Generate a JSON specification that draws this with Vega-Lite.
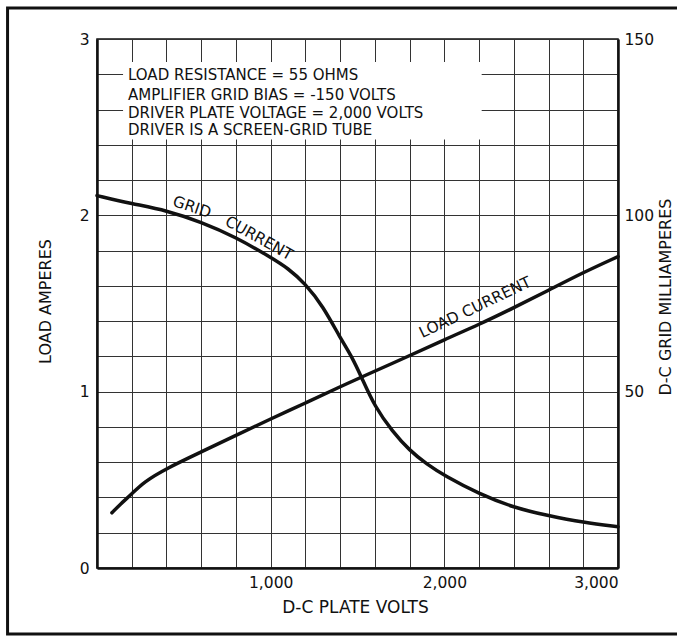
{
  "$schema": "https://vega.github.io/schema/vega-lite/v6.json",
  "width": 521,
  "height": 529,
  "autosize": "none",
  "padding": {"left": 97, "top": 39, "right": 59, "bottom": 71},
  "background": "white",
  "config": {
    "font": "DejaVu Sans",
    "view": {"stroke": "#111", "strokeWidth": 1.5},
    "axis": {
      "labelFont": "DejaVu Sans",
      "labelFontSize": 15.5,
      "labelColor": "#111",
      "titleFont": "DejaVu Sans",
      "titleColor": "#111",
      "titleFontWeight": "normal",
      "titleFontSize": 17,
      "ticks": false,
      "gridColor": "#333",
      "gridOpacity": 1,
      "gridWidth": 1,
      "domainColor": "#111",
      "domainWidth": 2.5,
      "labelOverlap": false
    }
  },
  "encoding": {
    "x": {
      "field": "volts",
      "type": "quantitative",
      "scale": {"domain": [0, 3000], "nice": false, "zero": false},
      "axis": {
        "title": "D-C PLATE VOLTS",
        "values": [0, 200, 400, 600, 800, 1000, 1200, 1400, 1600, 1800, 2000, 2200, 2400, 2600, 2800, 3000],
        "labelExpr": "datum.value % 1000 === 0 && datum.value > 0 ? format(datum.value, ',') : ''",
        "labelPadding": 7,
        "titleX": 258,
        "titleY": 44,
        "titleAlign": "center",
        "titleBaseline": "alphabetic"
      }
    }
  },
  "layer": [
    {
      "encoding": {
        "y": {
          "field": "amps",
          "type": "quantitative",
          "scale": {"domain": [0, 3], "nice": false, "zero": false},
          "axis": {
            "orient": "left",
            "title": "LOAD AMPERES",
            "titleFontSize": 16,
            "values": [0, 0.2, 0.4, 0.6, 0.8, 1, 1.2, 1.4, 1.6, 1.8, 2, 2.2, 2.4, 2.6, 2.8, 3],
            "labelExpr": "abs(datum.value - round(datum.value)) < 0.001 ? format(datum.value, 'd') : ''",
            "labelPadding": 8,
            "titleAngle": -90,
            "titleX": -47,
            "titleY": 262,
            "titleAlign": "center",
            "titleBaseline": "alphabetic"
          }
        }
      },
      "layer": [
        {
          "data": {"values": [{"volts": 150, "volts2": 2215, "amps": 2.43, "amps2": 2.87}]},
          "mark": {"type": "rect", "fill": "white", "stroke": null},
          "encoding": {
            "x2": {"field": "volts2"},
            "y2": {"field": "amps2"}
          }
        },
        {
          "data": {"values": [
            {"volts": 86, "amps": 0.313},
            {"volts": 134, "amps": 0.362},
            {"volts": 200, "amps": 0.419},
            {"volts": 268, "amps": 0.487},
            {"volts": 400, "amps": 0.565},
            {"volts": 600, "amps": 0.658},
            {"volts": 800, "amps": 0.752},
            {"volts": 1000, "amps": 0.846},
            {"volts": 1200, "amps": 0.935},
            {"volts": 1400, "amps": 1.028},
            {"volts": 1530, "amps": 1.086},
            {"volts": 1800, "amps": 1.204},
            {"volts": 2000, "amps": 1.295},
            {"volts": 2200, "amps": 1.381},
            {"volts": 2400, "amps": 1.476},
            {"volts": 2600, "amps": 1.575},
            {"volts": 2800, "amps": 1.676},
            {"volts": 3000, "amps": 1.766}
          ]},
          "mark": {"type": "line", "color": "#111", "strokeWidth": 3.5, "strokeCap": "round", "interpolate": "basis"}
        },
        {
          "data": {"values": [
            {"volts": 178.5, "amps": 2.767, "text": "LOAD RESISTANCE = 55 OHMS"},
            {"volts": 178.5, "amps": 2.654, "text": "AMPLIFIER GRID BIAS = -150 VOLTS"},
            {"volts": 178.5, "amps": 2.552, "text": "DRIVER PLATE VOLTAGE = 2,000 VOLTS"},
            {"volts": 178.5, "amps": 2.456, "text": "DRIVER IS A SCREEN-GRID TUBE"}
          ]},
          "mark": {"type": "text", "align": "left", "baseline": "alphabetic", "fontSize": 15, "color": "#111"},
          "encoding": {"text": {"field": "text"}}
        },
        {
          "data": {"values": [{"volts": 547, "amps": 2.047, "text": "GRID"}]},
          "mark": {"type": "text", "align": "center", "baseline": "middle", "fontSize": 15.5, "angle": 19, "color": "#111"},
          "encoding": {"text": {"field": "text"}}
        },
        {
          "data": {"values": [{"volts": 933, "amps": 1.871, "text": "CURRENT"}]},
          "mark": {"type": "text", "align": "center", "baseline": "middle", "fontSize": 15.5, "angle": 29, "color": "#111"},
          "encoding": {"text": {"field": "text"}}
        },
        {
          "data": {"values": [{"volts": 2177, "amps": 1.477, "text": "LOAD CURRENT"}]},
          "mark": {"type": "text", "align": "center", "baseline": "middle", "fontSize": 15.5, "angle": -25.5, "color": "#111"},
          "encoding": {"text": {"field": "text"}}
        },
        {
          "data": {"values": [{"volts": 0, "amps": 0}]},
          "mark": {"type": "rect", "fill": null, "stroke": "#111", "strokeWidth": 3, "clip": false},
          "encoding": {
            "x": {"datum": -515, "type": "quantitative"},
            "x2": {"datum": 3480},
            "y": {"datum": 3.176, "type": "quantitative"},
            "y2": {"datum": -0.374}
          }
        }
      ]
    },
    {
      "data": {"values": [
        {"volts": 0, "ma": 105.6},
        {"volts": 200, "ma": 103.3},
        {"volts": 400, "ma": 101.4},
        {"volts": 600, "ma": 98.1},
        {"volts": 800, "ma": 93.8},
        {"volts": 1000, "ma": 88.1},
        {"volts": 1100, "ma": 85.0},
        {"volts": 1200, "ma": 80.6},
        {"volts": 1300, "ma": 74.3},
        {"volts": 1400, "ma": 65.3},
        {"volts": 1467, "ma": 60.0},
        {"volts": 1524, "ma": 54.0},
        {"volts": 1600, "ma": 45.7},
        {"volts": 1700, "ma": 38.8},
        {"volts": 1800, "ma": 33.3},
        {"volts": 1900, "ma": 29.4},
        {"volts": 2000, "ma": 26.2},
        {"volts": 2200, "ma": 21.0},
        {"volts": 2400, "ma": 17.1},
        {"volts": 2600, "ma": 14.8},
        {"volts": 2800, "ma": 12.9},
        {"volts": 3000, "ma": 11.7}
      ]},
      "mark": {"type": "line", "color": "#111", "strokeWidth": 3.5, "strokeCap": "round", "interpolate": "basis"},
      "encoding": {
        "y": {
          "field": "ma",
          "type": "quantitative",
          "scale": {"domain": [0, 150], "nice": false, "zero": false},
          "axis": {
            "orient": "right",
            "title": "D-C GRID MILLIAMPERES",
            "titleFontSize": 16,
            "values": [50, 100, 150],
            "grid": false,
            "labelPadding": 6,
            "titleAngle": -90,
            "titleX": 52,
            "titleY": 257.5,
            "titleAlign": "center",
            "titleBaseline": "alphabetic"
          }
        }
      }
    }
  ],
  "resolve": {"scale": {"y": "independent"}}
}
